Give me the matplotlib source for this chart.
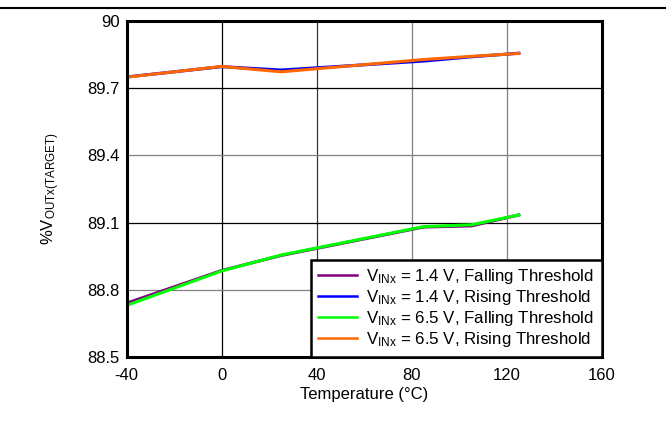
import matplotlib.pyplot as plt
from matplotlib.lines import Line2D

plt.rcParams['font.family'] = ['Liberation Sans', 'DejaVu Sans']
plt.rcParams['mathtext.fontset'] = 'custom'
plt.rcParams['mathtext.rm'] = 'Liberation Sans'
plt.rcParams['mathtext.it'] = 'Liberation Sans'
plt.rcParams['axes.unicode_minus'] = False

temp = [-40, 0, 25, 85, 105, 125]
v14_fall = [88.740, 88.886, 88.953, 89.080, 89.085, 89.134]
v14_rise = [89.750, 89.796, 89.781, 89.821, 89.840, 89.856]
v65_fall = [88.730, 88.884, 88.955, 89.082, 89.090, 89.134]
v65_rise = [89.749, 89.797, 89.773, 89.828, 89.842, 89.855]

labels = [r'$\mathregular{V_{INx}}$ = 1.4 V, Falling Threshold',
          r'$\mathregular{V_{INx}}$ = 1.4 V, Rising Threshold',
          r'$\mathregular{V_{INx}}$ = 6.5 V, Falling Threshold',
          r'$\mathregular{V_{INx}}$ = 6.5 V, Rising Threshold']
colors = ['#800080', '#0000ff', '#00ff00', '#ff6600']
series = [v14_fall, v14_rise, v65_fall, v65_rise]

fig = plt.figure(figsize=(6.66, 4.28), dpi=100)
ax = fig.add_axes([0.19, 0.166, 0.714, 0.785])

for vals, c, lab in zip(series, colors, labels):
    ax.plot(temp, vals, color=c, lw=2.2, label=lab)

ax.set_xlim(-40, 160)
ax.set_ylim(88.5, 90)
ax.set_xticks([-40, 0, 40, 80, 120, 160])
ax.set_yticks([88.5, 88.8, 89.1, 89.4, 89.7, 90])
ax.set_yticklabels(['88.5', '88.8', '89.1', '89.4', '89.7', '90'])
ax.tick_params(length=0, labelsize=12)
ax.tick_params(axis='x', pad=8)
ax.tick_params(axis='y', pad=5)

# grid lines, mixed black / gray like the original
for x, c in zip([0, 40, 80, 120], ['black', '#333333', '#808080', '#808080']):
    ax.axvline(x, color=c, lw=0.9, zorder=0)
for y, c in zip([88.8, 89.1, 89.4, 89.7], ['#808080', 'black', '#808080', 'black']):
    ax.axhline(y, color=c, lw=0.9, zorder=0)

for s in ax.spines.values():
    s.set_linewidth(2.2)

ax.set_xlabel('Temperature (\u00b0C)', fontsize=12, labelpad=3)
ax.set_ylabel(r'%V$\mathregular{_{OUTx(TARGET)}}$', fontsize=12, labelpad=18)

leg = ax.legend(loc='lower right', borderaxespad=0, fontsize=12.2, frameon=True,
                fancybox=False, handlelength=2.3, handletextpad=0.55,
                labelspacing=0.12, borderpad=0.45)
leg.get_frame().set_edgecolor('black')
leg.get_frame().set_linewidth(1.8)
leg.get_frame().set_alpha(1)
for h in leg.get_lines():
    h.set_linewidth(1.8)

fig.add_artist(Line2D([0, 1], [1 - 7.5 / 428, 1 - 7.5 / 428], color='black', lw=1.5,
                      transform=fig.transFigure))

fig.savefig('out.png', dpi=100)
